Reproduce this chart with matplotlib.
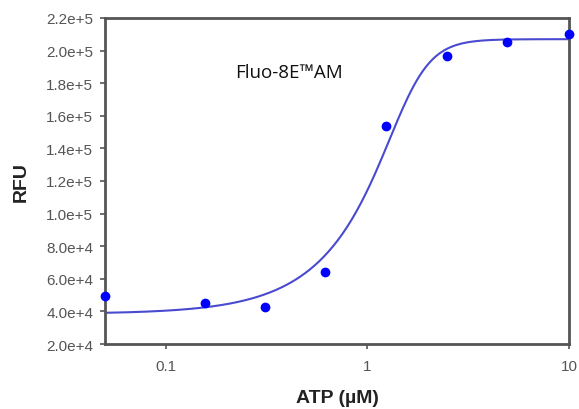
import numpy as np
import matplotlib
matplotlib.use('Agg')
import matplotlib.pyplot as plt
from matplotlib.ticker import FixedLocator, NullLocator

# measured points
atp = [0.05, 0.156, 0.31, 0.62, 1.24, 2.48, 4.93, 10.0]
rfu = [49500, 45400, 42600, 63900, 153700, 196800, 205400, 210200]

# fitted curve parameters (5-parameter logistic)
bottom = 38500
top = 207000
c_mid = 1.62
hill = 5.0
asym = 0.32

x_ticks = [0.1, 1, 10]
x_tick_labels = ['0.1', '1', '10']
y_ticks = [2e4, 4e4, 6e4, 8e4, 1e5, 1.2e5, 1.4e5, 1.6e5, 1.8e5, 2e5, 2.2e5]
y_tick_labels = ['2.0e+4', '4.0e+4', '6.0e+4', '8.0e+4', '1.0e+5', '1.2e+5',
                 '1.4e+5', '1.6e+5', '1.8e+5', '2.0e+5', '2.2e+5']

plt.rcParams['font.family'] = ['Liberation Sans', 'DejaVu Sans']

fig = plt.figure(figsize=(5.79, 4.10), dpi=100)
ax = fig.add_axes([0.1813, 0.1585, 0.8014, 0.7952])

xs = np.logspace(np.log10(0.05), np.log10(10), 300)
fit = bottom + (top - bottom) / (1 + (c_mid / xs) ** hill) ** asym
ax.plot(xs, fit, color='#4a4ad0', lw=1.5, zorder=2)
ax.plot(atp, rfu, 'o', color='#0000ff', ms=6, clip_on=False, zorder=3)

ax.set_xscale('log')
ax.set_xlim(0.05, 10)
ax.set_ylim(2e4, 2.2e5)
ax.xaxis.set_major_locator(FixedLocator(x_ticks))
ax.xaxis.set_minor_locator(NullLocator())
ax.set_xticklabels(x_tick_labels)
ax.set_yticks(y_ticks)
ax.set_yticklabels(y_tick_labels)

for s in ax.spines.values():
    s.set_color('#555555')
    s.set_linewidth(2)
ax.tick_params(axis='both', direction='out', length=3.5, width=1.2, color='#555555',
               labelsize=11, labelcolor='#555555', pad=5)
ax.tick_params(axis='x', pad=7)

ax.set_xlabel('ATP (µM)', fontsize=14, fontweight='bold', color='#222222', labelpad=12)
ax.set_ylabel('RFU', fontsize=14, fontweight='bold', color='#222222', labelpad=12)

ax.text(0.397, 0.835, 'Fluo-8E\u2122AM', transform=ax.transAxes,
        fontsize=13.5, family='Open Sans', ha='center', va='center', color='#111111')

fig.savefig('out.png', dpi=100, facecolor='white')
